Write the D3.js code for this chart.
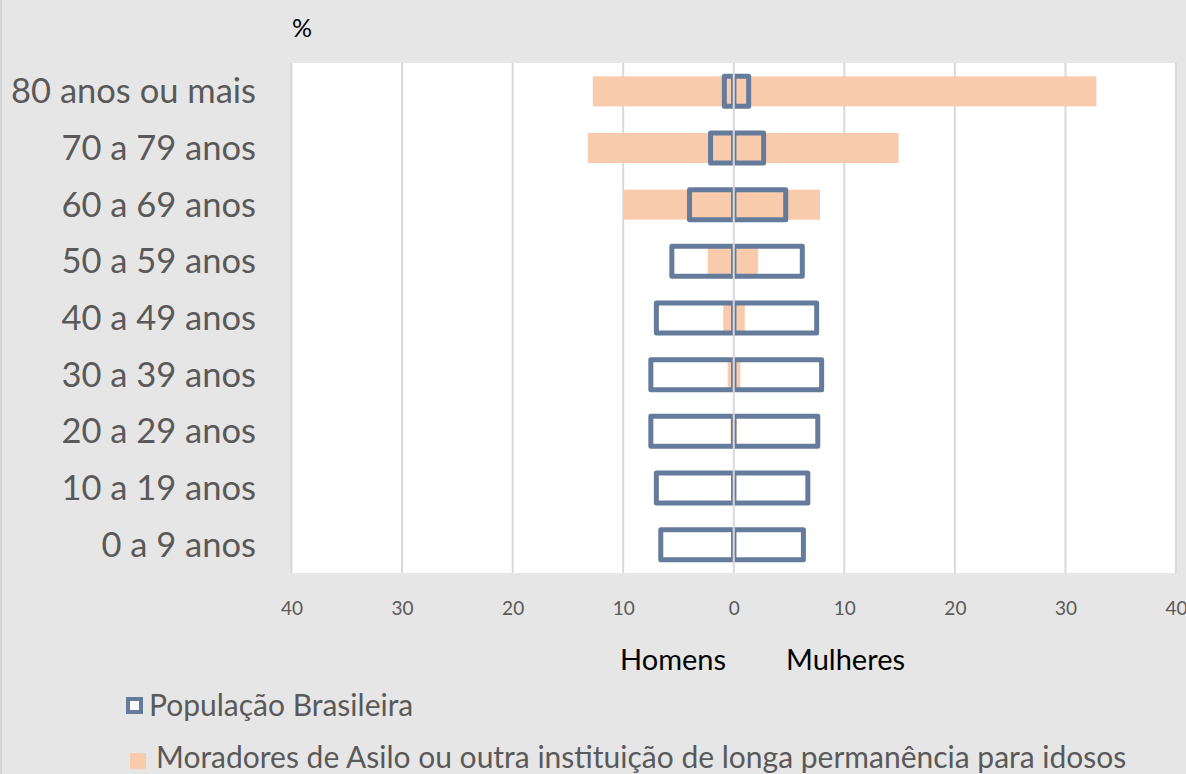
<!DOCTYPE html>
<html>
<head>
<meta charset="utf-8">
<script src="https://cdn.jsdelivr.net/npm/d3@7"></script>
<style>
  body { margin: 0; background: #e7e6e6; }
  svg { display: block; font-family: Lato, "Open Sans", sans-serif; }
</style>
</head>
<body>
<svg id="chart"></svg>
<script>
// age groups, bottom to top
var categories = ["0 a 9 anos", "10 a 19 anos", "20 a 29 anos", "30 a 39 anos", "40 a 49 anos",
                  "50 a 59 anos", "60 a 69 anos", "70 a 79 anos", "80 anos ou mais"];

// População Brasileira (%)
var popHomens   = [6.6, 7.0, 7.5, 7.5, 7.0, 5.6, 4.0, 2.1, 0.85];
var popMulheres = [6.3, 6.7, 7.6, 7.95, 7.5, 6.2, 4.7, 2.7, 1.35];

// Moradores de asilo (%)
var asiloHomens   = [0, 0, 0.3, 0.55, 0.95, 2.35, 10.0, 13.2, 12.75];
var asiloMulheres = [0, 0, 0.3, 0.6, 1.0, 2.2, 7.8, 14.9, 32.8];

var tickValues = [-40, -30, -20, -10, 0, 10, 20, 30, 40];

var seriesNames = ["População Brasileira",
                   "Moradores de Asilo ou outra instituição de longa permanência para idosos"];

var screen = { width: 1186, height: 774 };
var plot = { left: 291.5, right: 1176, top: 63, bottom: 573 };

var grey = "#595959";
var blue = "#657b9b";
var orange = "#f8cbad";
var gridColor = "#d9d9d9";

var svg = d3.select("#chart")
            .attr("width", screen.width)
            .attr("height", screen.height);

svg.append("rect")
   .attr("width", screen.width)
   .attr("height", screen.height)
   .attr("fill", "#e7e6e6");

// left frame edge
svg.append("line")
   .attr("x1", 1).attr("x2", 1)
   .attr("y1", 0).attr("y2", screen.height)
   .attr("stroke", "#d4d4d4").attr("stroke-width", 2);

var xScale = d3.scaleLinear()
               .domain([-40, 40])
               .range([plot.left, plot.right]);

var yScale = d3.scaleBand()
               .domain(categories.slice().reverse())
               .range([plot.top, plot.bottom])
               .paddingInner(0.47)
               .paddingOuter(0.235);

// plot area
svg.append("rect")
   .attr("x", plot.left)
   .attr("y", plot.top)
   .attr("width", plot.right - plot.left)
   .attr("height", plot.bottom - plot.top)
   .attr("fill", "white");

// gridlines
svg.append("g")
   .selectAll("line")
   .data(tickValues.filter(function(d) { return d != 0; }))
   .enter()
   .append("line")
   .attr("x1", function(d) { return xScale(d); })
   .attr("x2", function(d) { return xScale(d); })
   .attr("y1", plot.top)
   .attr("y2", plot.bottom)
   .attr("stroke", gridColor)
   .attr("stroke-width", 2);

// build rows for drawing
var rows = categories.map(function(c, i) {
  return { cat: c, ph: popHomens[i], pm: popMulheres[i], ah: asiloHomens[i], am: asiloMulheres[i] };
});

// asilo bars (filled)
var asilo = svg.append("g");
asilo.selectAll("rect.left")
     .data(rows)
     .enter()
     .append("rect")
     .attr("x", function(d) { return xScale(-d.ah); })
     .attr("y", function(d) { return yScale(d.cat); })
     .attr("width", function(d) { return xScale(0) - xScale(-d.ah); })
     .attr("height", yScale.bandwidth())
     .attr("fill", orange);
asilo.selectAll("rect.right")
     .data(rows)
     .enter()
     .append("rect")
     .attr("x", xScale(0))
     .attr("y", function(d) { return yScale(d.cat); })
     .attr("width", function(d) { return xScale(d.am) - xScale(0); })
     .attr("height", yScale.bandwidth())
     .attr("fill", orange);

// populacao bars (outlined)
var pop = svg.append("g")
             .attr("fill", "none")
             .attr("stroke", blue)
             .attr("stroke-width", 5)
             .attr("stroke-linejoin", "round");
pop.selectAll("rect.left")
   .data(rows)
   .enter()
   .append("rect")
   .attr("x", function(d) { return xScale(-d.ph); })
   .attr("y", function(d) { return yScale(d.cat); })
   .attr("width", function(d) { return xScale(0) - xScale(-d.ph); })
   .attr("height", yScale.bandwidth());
pop.selectAll("rect.right")
   .data(rows)
   .enter()
   .append("rect")
   .attr("x", xScale(0))
   .attr("y", function(d) { return yScale(d.cat); })
   .attr("width", function(d) { return xScale(d.pm) - xScale(0); })
   .attr("height", yScale.bandwidth());

// zero line on top
svg.append("line")
   .attr("x1", xScale(0)).attr("x2", xScale(0))
   .attr("y1", plot.top).attr("y2", plot.bottom)
   .attr("stroke", gridColor)
   .attr("stroke-width", 2);

// x axis labels
var xAxis = d3.axisBottom(xScale)
              .tickValues(tickValues)
              .tickSize(0)
              .tickPadding(0)
              .tickFormat(function(d) { return Math.abs(d); });

svg.append("g")
   .attr("transform", "translate(0," + 601 + ")")
   .call(xAxis)
   .call(function(g) { g.select(".domain").remove(); })
   .selectAll("text")
   .attr("fill", grey)
   .style("font-family", "Lato, sans-serif")
   .style("font-size", "19px");

// category labels
svg.append("g")
   .selectAll("text")
   .data(categories)
   .enter()
   .append("text")
   .attr("x", 256)
   .attr("y", function(d) { return yScale(d) + yScale.bandwidth() / 2; })
   .attr("dy", "0.35em")
   .attr("text-anchor", "end")
   .attr("fill", grey)
   .style("font-size", "34.5px")
   .text(function(d) { return d; });

// unit
svg.append("text")
   .attr("x", 292).attr("y", 37)
   .attr("fill", "black")
   .style("font-size", "25px")
   .text("%");

// sides
svg.append("text")
   .attr("x", 620).attr("y", 670)
   .attr("fill", "black")
   .style("font-size", "29px")
   .text("Homens");
svg.append("text")
   .attr("x", 786).attr("y", 670)
   .attr("fill", "black")
   .style("font-size", "29px")
   .text("Mulheres");

// legend
var legend = svg.append("g");
legend.append("rect")
      .attr("x", 128).attr("y", 699)
      .attr("width", 13).attr("height", 13)
      .attr("fill", "white")
      .attr("stroke", blue)
      .attr("stroke-width", 4);
legend.append("text")
      .attr("x", 149).attr("y", 716)
      .attr("fill", grey)
      .style("font-size", "30px")
      .text(seriesNames[0]);
legend.append("rect")
      .attr("x", 130).attr("y", 753)
      .attr("width", 16).attr("height", 16)
      .attr("fill", orange);
legend.append("text")
      .attr("x", 156).attr("y", 768)
      .attr("fill", grey)
      .style("font-size", "30px")
      .text(seriesNames[1]);
</script>
</body>
</html>
